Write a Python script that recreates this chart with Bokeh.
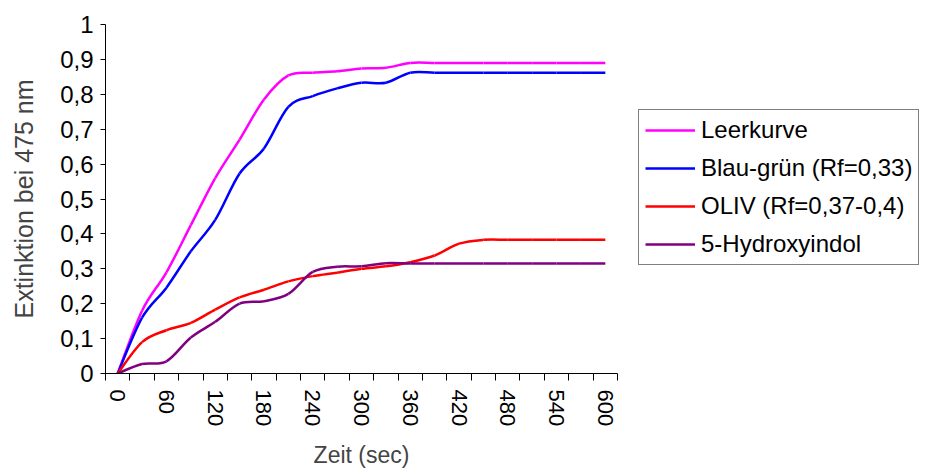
import numpy as np
from bokeh.plotting import figure
from bokeh.models import (Range1d, FixedTicker, CustomJSTickFormatter, Legend,
                          LegendItem, ColumnDataSource)
from bokeh.embed import file_html
from bokeh.resources import INLINE

# ---- data ----
zeit = [0, 30, 60, 90, 120, 150, 180, 210, 240, 270, 300, 330, 360, 390, 420,
        450, 480, 510, 540, 570, 600]
leerkurve = [0, 0.18, 0.29, 0.425, 0.56, 0.67, 0.785, 0.854, 0.862, 0.866, 0.874,
             0.876, 0.89, 0.89, 0.89, 0.89, 0.89, 0.89, 0.89, 0.89, 0.89]
blau_gruen = [0, 0.16, 0.246, 0.35, 0.44, 0.573, 0.645, 0.764, 0.795, 0.817, 0.833,
              0.833, 0.862, 0.862, 0.862, 0.862, 0.862, 0.862, 0.862, 0.862, 0.862]
oliv = [0, 0.09, 0.124, 0.145, 0.183, 0.218, 0.24, 0.264, 0.279, 0.289, 0.30,
        0.307, 0.319, 0.338, 0.372, 0.383, 0.383, 0.383, 0.383, 0.383, 0.383]
hydroxyindol = [0, 0.027, 0.035, 0.103, 0.148, 0.2, 0.207, 0.228, 0.291, 0.306, 0.307,
                0.316, 0.315, 0.315, 0.315, 0.315, 0.315, 0.315, 0.315, 0.315, 0.315]

series_names = ["Leerkurve", "Blau-grün (Rf=0,33)", "OLIV (Rf=0,37-0,4)", "5-Hydroxyindol"]
series_values = [leerkurve, blau_gruen, oliv, hydroxyindol]
series_colors = ["#FF00FF", "#0000FF", "#FF0000", "#800080"]

y_ticks = [0, 0.1, 0.2, 0.3, 0.4, 0.5, 0.6, 0.7, 0.8, 0.9, 1.0]

FONT = "Liberation Sans"

half = (zeit[1] - zeit[0]) / 2
p = figure(frame_width=512, frame_height=349, output_backend="svg", toolbar_location=None,
           x_range=Range1d(zeit[0] - half, zeit[-1] + half), y_range=Range1d(0, 1),
           min_border_left=105, min_border_right=300, min_border_top=24,
           min_border_bottom=86)
p.outline_line_color = None
p.grid.visible = False
p.background_fill_color = "white"
p.border_fill_color = "white"

# x axis (category style: ticks between categories, labels every other category)
xa = p.xaxis[0]
xa.ticker = FixedTicker(ticks=zeit[::2],
                        minor_ticks=[t - half for t in zeit] + [zeit[-1] + half])
xa.major_tick_out = 0
xa.major_tick_in = 0
xa.minor_tick_out = 7
xa.minor_tick_in = 0
xa.minor_tick_line_color = "black"
xa.axis_line_color = "black"
xa.major_label_orientation = "vertical"
xa.major_label_standoff = 9
xa.major_label_text_font = FONT
xa.major_label_text_font_size = "22px"
xa.major_label_text_color = "black"
xa.axis_label = "Zeit (sec)"
xa.axis_label_text_font = FONT
xa.axis_label_text_font_size = "23px"
xa.axis_label_text_font_style = "normal"
xa.axis_label_standoff = 13

ya = p.yaxis[0]
ya.ticker = FixedTicker(ticks=y_ticks, minor_ticks=[])
ya.formatter = CustomJSTickFormatter(
    code="return (Math.round(tick*10)/10).toString().replace('.', ',');")
ya.major_tick_out = 5
ya.major_tick_in = 0
ya.minor_tick_out = 0
ya.minor_tick_in = 0
ya.axis_line_color = "black"
ya.major_label_standoff = 7
ya.major_label_text_font = FONT
ya.major_label_text_font_size = "24px"
ya.major_label_text_color = "black"
ya.axis_label = "Extinktion bei 475 nm"
ya.axis_label_text_font = FONT
ya.axis_label_text_font_size = "25px"
ya.axis_label_text_font_style = "normal"
ya.axis_label_standoff = 19


def smooth_segments(xs, ys):
    xs = np.asarray(xs, dtype=float)
    ys = np.asarray(ys, dtype=float)
    n = len(xs)
    xp = np.concatenate([[xs[0]], xs, [xs[-1]]])
    yp = np.concatenate([[ys[0]], ys, [ys[-1]]])
    d = dict(x0=[], y0=[], x1=[], y1=[], cx0=[], cy0=[], cx1=[], cy1=[])
    for i in range(n - 1):
        j = i + 1
        d["x0"].append(xs[i]); d["y0"].append(ys[i])
        d["x1"].append(xs[i + 1]); d["y1"].append(ys[i + 1])
        d["cx0"].append(xs[i] + (xp[j + 1] - xp[j - 1]) / 6)
        d["cy0"].append(ys[i] + (yp[j + 1] - yp[j - 1]) / 6)
        d["cx1"].append(xs[i + 1] - (xp[j + 2] - xp[j]) / 6)
        d["cy1"].append(ys[i + 1] - (yp[j + 2] - yp[j]) / 6)
    return ColumnDataSource(d)


items = []
for name, vals, col in zip(series_names, series_values, series_colors):
    src = smooth_segments(zeit, vals)
    r = p.bezier(x0="x0", y0="y0", x1="x1", y1="y1", cx0="cx0", cy0="cy0",
                 cx1="cx1", cy1="cy1", source=src, line_color=col, line_width=2.5)
    items.append(LegendItem(label=name, renderers=[r]))

legend = Legend(items=items, location=(21, 108))
legend.border_line_color = "black"
legend.border_line_width = 1
legend.background_fill_color = "white"
legend.background_fill_alpha = 1
legend.label_text_font = FONT
legend.label_text_font_size = "24px"
legend.label_text_color = "black"
legend.glyph_width = 50
legend.glyph_height = 20
legend.label_standoff = 6
legend.padding = 6
legend.spacing = 10
legend.margin = 0
p.add_layout(legend, "right")

open("out.html", "w").write(file_html(p, INLINE))
